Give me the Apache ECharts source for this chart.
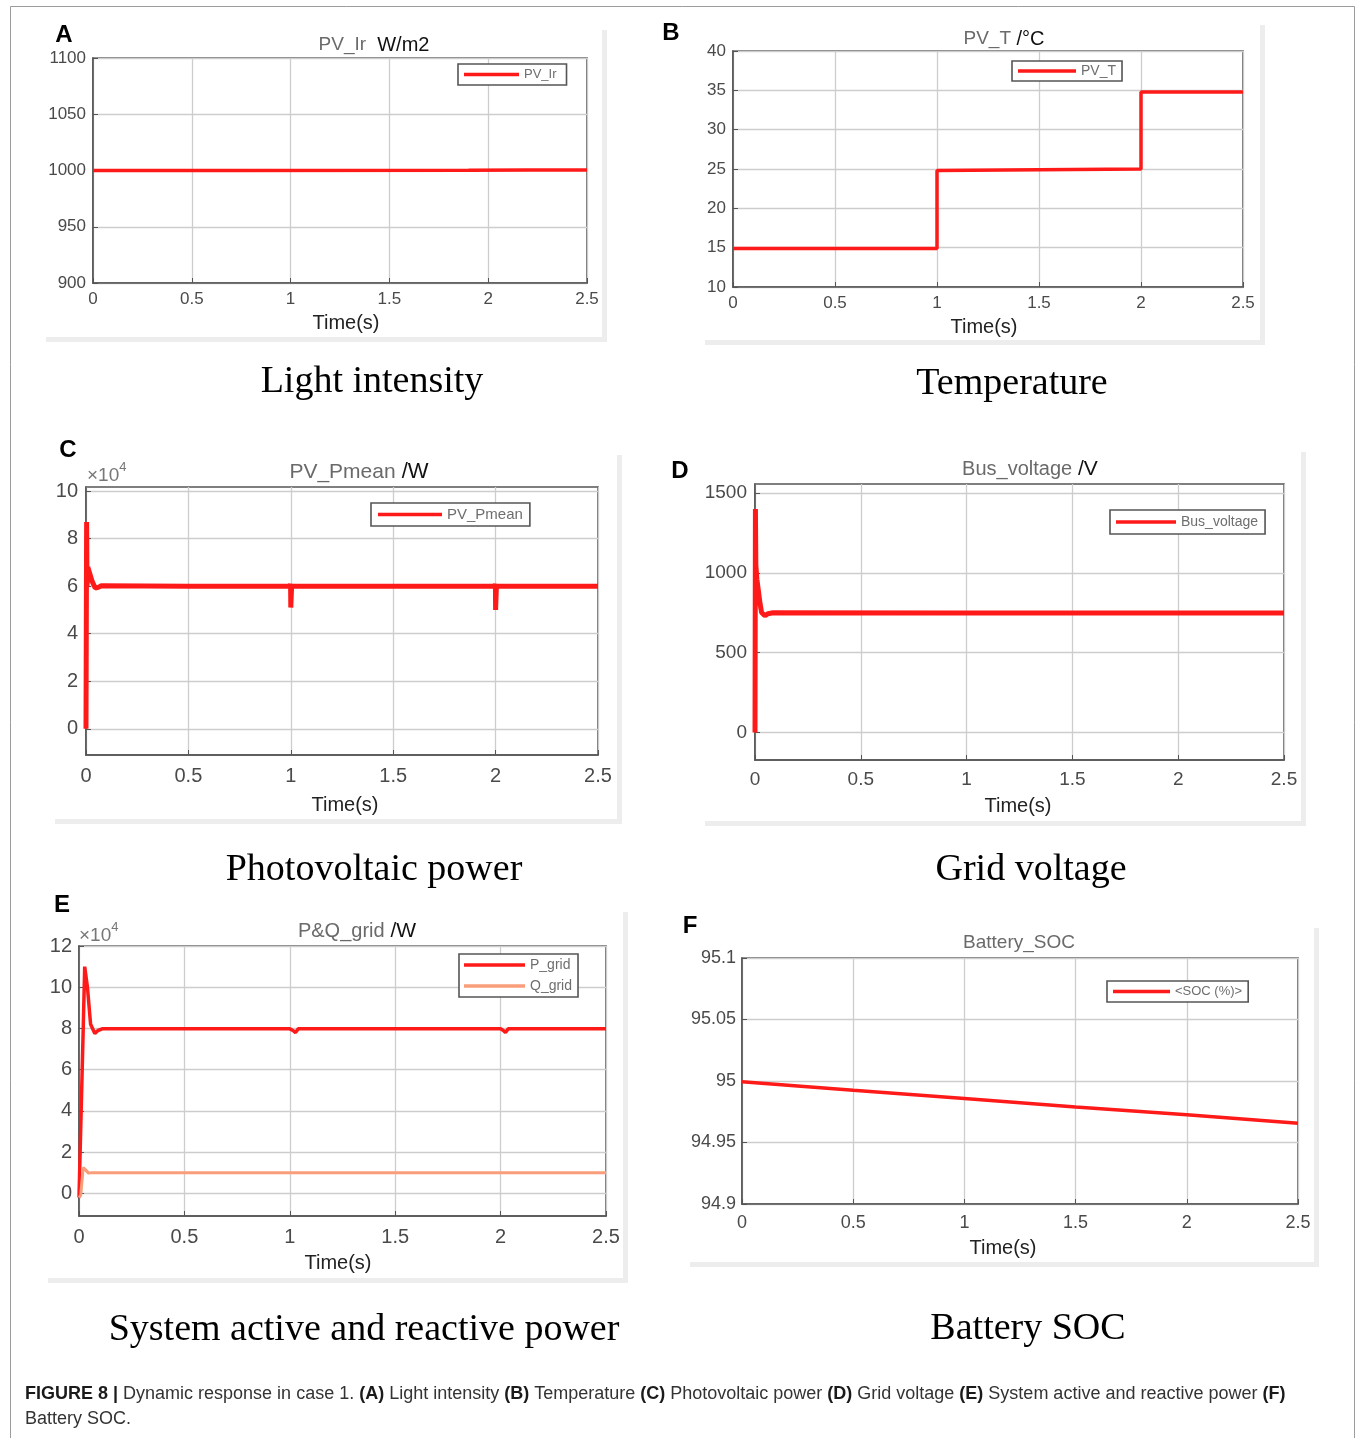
<!DOCTYPE html>
<html><head><meta charset="utf-8">
<script src="https://cdn.jsdelivr.net/npm/echarts@6/dist/echarts.min.js"></script>
<style>html,body{margin:0;padding:0;background:#fff}#c{width:1357px;height:1438px}</style>
</head><body><div id="c"></div><script>
// ---------------- DATA ----------------
const xTicks = [0, 0.5, 1, 1.5, 2, 2.5];

// (A) Light intensity
const irT = [0, 0.7, 1.9, 2.2, 2.5];
const irV = [1000, 1000.1, 1000.3, 1000.5, 1000.5];
const irTicks = [900, 950, 1000, 1050, 1100];

// (B) Temperature
const tempT = [0, 1.0, 1.0, 1.5, 2.0, 2.0, 2.5];
const tempV = [14.9, 14.9, 24.8, 24.9, 25.0, 34.8, 34.8];
const tempTicks = [10, 15, 20, 25, 30, 35, 40];

// (C) Photovoltaic power (x10^4 W)
const pvT = [0, 0.002, 0.003, 0.005, 0.009, 0.016, 0.03, 0.045, 0.06, 0.075, 0.5, 0.996, 0.999, 1.0, 1.002, 1.004, 1.5, 1.996, 1.999, 2.0, 2.002, 2.004, 2.5];
const pvV = [0, 0, 8.7, 6.0, 6.8, 6.6, 6.2, 5.92, 5.95, 6.02, 6.0, 6.0, 6.1, 5.1, 5.1, 6.0, 6.0, 6.0, 6.1, 5.0, 5.0, 6.0, 6.0];
const pvTicks = [0, 2, 4, 6, 8, 10];

// (D) Grid (bus) voltage (V)
const busT = [0, 0.001, 0.002, 0.004, 0.009, 0.016, 0.024, 0.031, 0.047, 0.062, 0.085, 1.0, 2.0, 2.5];
const busV = [0, 0, 1400, 1050, 960, 887, 806, 752, 731, 744, 750, 748, 748, 748];
const busTicks = [0, 500, 1000, 1500];

// (E) System active and reactive power (x10^4 W)
const pGridT = [0, 0.006, 0.02, 0.027, 0.04, 0.055, 0.075, 0.09, 0.11, 1.0, 1.015, 1.027, 1.04, 2.0, 2.013, 2.023, 2.036, 2.5];
const pGridV = [-0.2, -0.2, 8.0, 11.0, 10.0, 8.2, 7.75, 7.9, 7.98, 7.98, 7.9, 7.8, 7.98, 7.98, 7.9, 7.8, 7.98, 7.98];
const qGridT = [0, 0.008, 0.02, 0.03, 0.045, 0.06, 2.5];
const qGridV = [-0.2, -0.1, 1.25, 1.15, 0.98, 1.0, 1.0];
const gridTicks = [0, 2, 4, 6, 8, 10, 12];

// (F) Battery SOC (%)
const socT = [0, 0.5, 1, 1.5, 2, 2.5];
const socV = [94.9994, 94.9925, 94.9858, 94.9789, 94.9725, 94.9656];
const socTicks = [94.9, 94.95, 95, 95.05, 95.1];

// ---------------- CHART ----------------
const SANS = '"Liberation Sans", Arial, sans-serif';
const SERIF = '"Liberation Serif", "Times New Roman", serif';
const zip = (t, v) => t.map((x, i) => [x, v[i]]);
const fmt = v => String(+(+v).toFixed(3));

const panels = [
  { g: [93, 58, 494, 225], y: [900, 1100], yt: irTicks, fs: 17, xm: 8, ym: 7 },
  { g: [733, 51, 510, 236], y: [10, 40], yt: tempTicks, fs: 17, xm: 8, ym: 7 },
  { g: [86, 487, 512, 268], y: [-1.1, 10.17], yt: pvTicks, fs: 20, xm: 11, ym: 8 },
  { g: [755, 484, 529, 276], y: [-172, 1556], yt: busTicks, fs: 19, xm: 10, ym: 8 },
  { g: [79, 946, 527, 270], y: [-1.1, 12], yt: gridTicks, fs: 20, xm: 11, ym: 7 },
  { g: [742, 958, 556, 246], y: [94.9, 95.1], yt: socTicks, fs: 18, xm: 10, ym: 6 }
];

const grid = [], xAxis = [], yAxis = [];
panels.forEach((p, i) => {
  grid.push({ left: p.g[0], top: p.g[1], width: p.g[2], height: p.g[3], show: true,
    backgroundColor: '#fff', borderColor: '#555', borderWidth: 1.6, containLabel: false, outerBoundsMode: 'none' });
  xAxis.push({ gridIndex: i, type: 'value', min: 0, max: 2.5,
    axisLine: { show: true, onZero: false, lineStyle: { color: '#555', width: 1.6 } },
    axisTick: { show: true, inside: true, length: 5, customValues: xTicks, lineStyle: { color: '#555' } },
    axisLabel: { customValues: xTicks, formatter: fmt, margin: p.xm, fontSize: p.fs, color: '#4a4a4a', fontFamily: SANS },
    splitLine: { show: true, lineStyle: { color: '#cdcdcd', width: 1.3 } } });
  yAxis.push({ gridIndex: i, type: 'value', min: p.y[0], max: p.y[1],
    axisLine: { show: true, onZero: false, lineStyle: { color: '#555', width: 1.6 } },
    axisTick: { show: true, inside: true, length: 5, customValues: p.yt, lineStyle: { color: '#555' } },
    axisLabel: { customValues: p.yt, formatter: fmt, margin: p.ym, fontSize: p.fs, color: '#4a4a4a', fontFamily: SANS },
    splitLine: { show: true, lineStyle: { color: '#cdcdcd', width: 1.3 } } });
});

const RED = '#ff1a1a';
const mkLine = (name, i, data, color, w) => ({
  name, type: 'line', xAxisIndex: i, yAxisIndex: i, data, symbol: 'none', showSymbol: false,
  lineStyle: { color, width: w }, itemStyle: { color }, animation: false, z: 3
});
const series = [
  mkLine('PV_Ir', 0, zip(irT, irV), RED, 3.5),
  mkLine('PV_T', 1, zip(tempT, tempV), RED, 3.5),
  mkLine('PV_Pmean', 2, zip(pvT, pvV), RED, 5),
  mkLine('Bus_voltage', 3, zip(busT, busV), RED, 5),
  mkLine('P_grid', 4, zip(pGridT, pGridV), RED, 3.5),
  mkLine('Q_grid', 4, zip(qGridT, qGridV), '#f99d7a', 3),
  mkLine('<SOC (%)>', 5, zip(socT, socV), RED, 3.5)
];

const legBase = { orient: 'vertical', backgroundColor: '#fff', borderColor: '#555', borderWidth: 1.6,
  borderRadius: 0, selectedMode: false, z: 10, itemGap: 7, icon: 'rect', itemHeight: 3.5 };
const leg = (o) => Object.assign({}, legBase, o, { textStyle: { color: '#6e6e6e', fontFamily: SANS, fontSize: o.fs } });
const legend = [
  leg({ left: 458, top: 64, data: ['PV_Ir'], itemWidth: 55, padding: [4, 10, 4, 6], fs: 13 }),
  leg({ left: 1012, top: 61, data: ['PV_T'], itemWidth: 58, padding: [3, 6, 3, 6], fs: 14 }),
  leg({ left: 371, top: 503, data: ['PV_Pmean'], itemWidth: 64, padding: [4, 7, 4, 7], fs: 15 }),
  leg({ left: 1110, top: 510, data: ['Bus_voltage'], itemWidth: 60, padding: [5, 7, 5, 6], fs: 14 }),
  leg({ left: 459, top: 954, data: ['P_grid', 'Q_grid'], itemWidth: 61, itemGap: 7, padding: [4, 6, 4, 5], fs: 14 }),
  leg({ left: 1107, top: 981, data: ['<SOC (%)>'], itemWidth: 57, padding: [4, 6, 4, 6], fs: 13 })
];

// text elements
const G = [];
const txt = (x, y, text, font, extra) => G.push(Object.assign({ type: 'text', x, y, z: 20,
  style: Object.assign({ text, font, fill: '#1a1a1a', align: 'center', verticalAlign: 'middle' }, extra || {}) }));
const rect = (x, y, w, h, fill) => G.push({ type: 'rect', z: -5, shape: { x, y, width: w, height: h }, style: { fill } });

// outer border
G.push({ type: 'rect', z: -10, shape: { x: 10.5, y: 6.5, width: 1344, height: 1460 }, style: { fill: 'none', stroke: '#9c9c9c', lineWidth: 1 } });

// panel shadow frames
const SH = '#ededed';
[[46, 30, 607, 342], [705, 25, 1265, 345], [55, 455, 622, 824], [705, 452, 1306, 826], [48, 912, 628, 1283], [690, 928, 1319, 1267]]
  .forEach(b => { rect(b[2] - 5, b[1], 5, b[3] - b[1], SH); rect(b[0], b[3] - 5, b[2] - b[0], 5, SH); });

// panel letters
[['A', 64, 35], ['B', 671, 33], ['C', 68, 450], ['D', 680, 471], ['E', 62, 905], ['F', 690, 926]]
  .forEach(l => txt(l[1], l[2], l[0], 'bold 24px ' + SANS, { fill: '#000' }));

// plot titles (rich)
const titleRich = (fs) => ({ g: { fill: '#6a6a6a', fontSize: fs, fontFamily: SANS }, k: { fill: '#111', fontSize: fs + 1, fontFamily: SANS } });
const ttl = (x, y, g, k, fs) => txt(x, y, '{g|' + g + '}' + (k ? '{k|' + k + '}' : ''), fs + 'px ' + SANS, { rich: titleRich(fs) });
ttl(374, 45, 'PV_Ir', '  W/m2', 19);
ttl(1004, 39, 'PV_T', ' /°C', 19);
ttl(359, 472, 'PV_Pmean', ' /W', 21);
ttl(1030, 469, 'Bus_voltage', ' /V', 20);
ttl(357, 931, 'P&Q_grid', ' /W', 20);
ttl(1019, 943, 'Battery_SOC', '', 19);

// exponent labels
const expo = (x, y) => txt(x, y, '{a|×10}{s|4}', '19px ' + SANS, { align: 'left', rich: {
  a: { fill: '#777', fontSize: 19, fontFamily: SANS, verticalAlign: 'bottom' },
  s: { fill: '#777', fontSize: 13, fontFamily: SANS, verticalAlign: 'top', padding: [0, 0, 11, 0] } } });
expo(87, 473);
expo(79, 933);

// x axis names
[[346, 323], [984, 327], [345, 805], [1018, 806], [338, 1263], [1003, 1248]]
  .forEach(p => txt(p[0], p[1], 'Time(s)', '20px ' + SANS, { fill: '#222' }));

// subtitles
[['Light intensity', 372, 382], ['Temperature', 1012, 384], ['Photovoltaic power', 374, 870], ['Grid voltage', 1031, 870],
 ['System active and reactive power', 364, 1330], ['Battery SOC', 1028, 1329]]
  .forEach(s => txt(s[1], s[2], s[0], '38px ' + SERIF, { fill: '#000' }));

// caption
const capRich = { b: { fontWeight: 'bold', fontSize: 18, fontFamily: SANS, fill: '#1a1a1a', lineHeight: 25 },
                  n: { fontSize: 18, fontFamily: SANS, fill: '#333', lineHeight: 25 } };
const cap = '{b|FIGURE 8 |}{n| Dynamic response in case 1. }{b|(A)}{n| Light intensity }{b|(B)}{n| Temperature }{b|(C)}{n| Photovoltaic power }{b|(D)}{n| Grid voltage }{b|(E)}{n| System active and reactive power }{b|(F)}\n{n|Battery SOC.}';
G.push({ type: 'text', x: 25, y: 1382, z: 20, style: { text: cap, rich: capRich, font: '18px ' + SANS, align: 'left', verticalAlign: 'top' } });

const chart = echarts.init(document.getElementById('c'), null, { renderer: 'canvas' });
chart.setOption({ animation: false, backgroundColor: '#fff', grid, xAxis, yAxis, series, legend, graphic: G });
</script></body></html>
